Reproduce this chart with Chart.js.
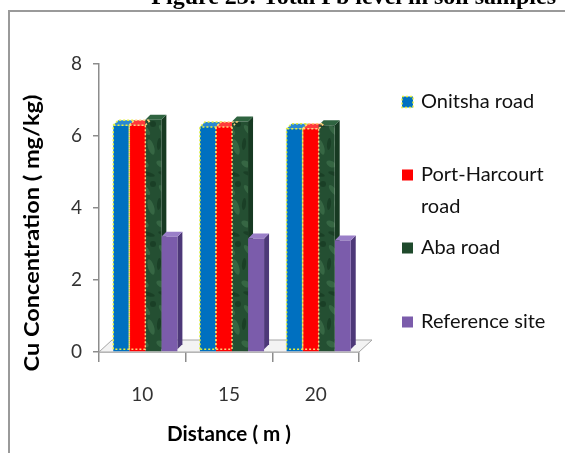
<!DOCTYPE html>
<html>
<head>
<meta charset="utf-8">
<script src="https://cdn.jsdelivr.net/npm/chart.js@4.4.0/dist/chart.umd.min.js"></script>
<style>
  html, body { margin: 0; padding: 0; background: #fff; }
  #wrap { width: 565px; height: 453px; }
</style>
</head>
<body>
<div id="wrap"><canvas id="cuChart" width="565" height="453"></canvas></div>
<script>
// data
const distances = ["10", "15", "20"];
const seriesNames = ["Onitsha road", "Port-Harcourt road", "Aba road", "Reference site"];
const onitshaRoad = [6.3, 6.25, 6.2];
const portHarcourtRoad = [6.3, 6.25, 6.2];
const abaRoad = [6.45, 6.4, 6.3];
const referenceSite = [3.2, 3.15, 3.1];
const yTicks = [0, 2, 4, 6, 8];

const figureTitle = "Figure 23: Total Pb level in soil samples";
const yTitle = "Cu Concentration ( mg/kg)";
const xTitle = "Distance ( m )";

// green "marble" fill, a small fixed pattern
function makeMarble() {
  const c = document.createElement("canvas");
  c.width = 17;
  c.height = 60;
  const g = c.getContext("2d");
  g.fillStyle = "#244f32";
  g.fillRect(0, 0, 17, 60);
  g.fillStyle = "rgba(95,155,110,0.3)";
  g.beginPath(); g.ellipse(7, 10, 6, 2.5, 0.9, 0, Math.PI * 2); g.fill();
  g.beginPath(); g.ellipse(12, 27, 3, 8, -0.3, 0, Math.PI * 2); g.fill();
  g.beginPath(); g.ellipse(5, 44, 5, 3, 0.5, 0, Math.PI * 2); g.fill();
  g.fillStyle = "rgba(15,45,25,0.45)";
  g.beginPath(); g.ellipse(9, 54, 7, 2, 0.3, 0, Math.PI * 2); g.fill();
  g.beginPath(); g.ellipse(3, 24, 2, 6, 0.1, 0, Math.PI * 2); g.fill();
  g.beginPath(); g.ellipse(14, 4, 3, 3, 0, 0, Math.PI * 2); g.fill();
  return g.createPattern(c, "repeat");
}

const frontColors = ["#0070c0", "#ff0000", makeMarble(), "#7b5cab"];
const topColors = ["#2a88d2", "#ff3a3a", "#2f6440", "#9a7fc8"];
const sideColors = ["#005a9a", "#cc0000", "#173a22", "#4d3878"];
const legendColors = ["#0070c0", "#ff0000", "#1f4a2c", "#7b5cab"];
const legendLines = [["Onitsha road"], ["Port-Harcourt", "road"], ["Aba road"], ["Reference site"]];
const legendY = [102, 175, 248, 322];

const dx = 5, dy = -5; // bar depth
const shiftX = 3;      // bars sit a bit right of the category centre in the 3D view

// draw text squeezed/stretched along its run to a set width
function fitText(ctx, text, x, y, width) {
  const w = ctx.measureText(text).width;
  ctx.save();
  ctx.translate(x, y);
  ctx.scale(width / w, 1);
  ctx.fillText(text, 0, 0);
  ctx.restore();
}

const bar3d = {
  id: "bar3d",
  beforeDraw(chart) {
    const ctx = chart.ctx;
    ctx.save();
    ctx.fillStyle = "#fff";
    ctx.fillRect(0, 0, chart.width, chart.height);
    // frame of the pasted figure
    ctx.strokeStyle = "#9a9a9a";
    ctx.lineWidth = 2;
    ctx.beginPath();
    ctx.moveTo(9, 453);
    ctx.lineTo(9, 11);
    ctx.lineTo(565, 11);
    ctx.stroke();
    // caption, cut at the top
    ctx.fillStyle = "#000";
    ctx.font = "bold 24px 'Liberation Serif'";
    ctx.textAlign = "right";
    ctx.textBaseline = "alphabetic";
    ctx.fillText(figureTitle, 556, 4);
    ctx.restore();
  },
  beforeDatasetsDraw(chart) {
    const ctx = chart.ctx;
    const area = chart.chartArea;
    const yb = chart.scales.y.getPixelForValue(0);
    ctx.save();
    // floor
    ctx.fillStyle = "#f3f3f3";
    ctx.strokeStyle = "#a6a6a6";
    ctx.lineWidth = 1;
    ctx.beginPath();
    ctx.moveTo(area.left, yb);
    ctx.lineTo(area.left + 13, yb - 12);
    ctx.lineTo(area.right + 13, yb - 12);
    ctx.lineTo(area.right, yb);
    ctx.closePath();
    ctx.fill();
    ctx.stroke();
    ctx.restore();

    // shifted until afterDatasetsDraw
    ctx.save();
    ctx.translate(shiftX, 0);
    // side and top faces
    for (let i = 0; i < distances.length; i++) {
      chart.data.datasets.forEach((ds, d) => {
        const b = chart.getDatasetMeta(d).data[i];
        const l = b.x - b.width / 2, r = b.x + b.width / 2;
        const base = b.base - 2;
        ctx.fillStyle = sideColors[d];
        ctx.beginPath();
        ctx.moveTo(r, b.y);
        ctx.lineTo(r + dx, b.y + dy);
        ctx.lineTo(r + dx, base + dy);
        ctx.lineTo(r, base);
        ctx.closePath();
        ctx.fill();
        ctx.fillStyle = topColors[d];
        ctx.beginPath();
        ctx.moveTo(l, b.y);
        ctx.lineTo(l + dx, b.y + dy);
        ctx.lineTo(r + dx, b.y + dy);
        ctx.lineTo(r, b.y);
        ctx.closePath();
        ctx.fill();
      });
    }
  },
  afterDatasetsDraw(chart) {
    const ctx = chart.ctx;
    // dotted outlines on the first two series
    [0, 1].forEach((d) => {
      chart.getDatasetMeta(d).data.forEach((b) => {
        const l = b.x - b.width / 2, r = b.x + b.width / 2;
        ctx.strokeStyle = d === 0 ? "#e6f03c" : "#ffd27a";
        ctx.lineWidth = 1.5;
        ctx.setLineDash([2, 2]);
        ctx.beginPath();
        ctx.moveTo(l, b.base - 2);
        ctx.lineTo(l, b.y);
        ctx.lineTo(l + dx, b.y + dy);
        ctx.lineTo(r + dx, b.y + dy);
        ctx.lineTo(r, b.y);
        ctx.lineTo(l, b.y);
        ctx.moveTo(r, b.y);
        ctx.lineTo(r, b.base - 2);
        ctx.lineTo(l, b.base - 2);
        ctx.stroke();
      });
    });
    ctx.restore();
  },
  afterDraw(chart) {
    const ctx = chart.ctx;
    const area = chart.chartArea;
    ctx.save();
    ctx.fillStyle = "#000";
    ctx.font = "bold 20px Lato";
    ctx.textAlign = "center";
    ctx.textBaseline = "middle";
    fitText(ctx, xTitle, (area.left + area.right) / 2, 435, 124);
    ctx.translate(33, 233);
    ctx.rotate(-Math.PI / 2);
    fitText(ctx, yTitle, 0, 0, 277);
    ctx.restore();

    // legend
    ctx.save();
    ctx.font = "20px Lato";
    ctx.textAlign = "left";
    ctx.textBaseline = "middle";
    seriesNames.forEach((name, d) => {
      const y = legendY[d];
      ctx.fillStyle = legendColors[d];
      ctx.fillRect(402, y - 5.5, 11, 11);
      if (d === 0) {
        ctx.strokeStyle = "#e6f03c";
        ctx.lineWidth = 1.5;
        ctx.setLineDash([2, 2]);
        ctx.strokeRect(402, y - 5.5, 11, 11);
        ctx.setLineDash([]);
      }
      ctx.fillStyle = "#111";
      legendLines[d].forEach((line, k) => {
        ctx.fillText(line, 421, y + k * 32);
      });
    });
    ctx.restore();
  }
};

const seriesData = [onitshaRoad, portHarcourtRoad, abaRoad, referenceSite];

new Chart(document.getElementById("cuChart"), {
  type: "bar",
  data: {
    labels: distances,
    datasets: seriesNames.map((name, d) => ({
      label: name,
      data: seriesData[d],
      backgroundColor: frontColors[d],
      borderWidth: 0,
      categoryPercentage: 0.74,
      barPercentage: 1
    }))
  },
  options: {
    responsive: false,
    animation: false,
    layout: { padding: { left: 0, right: 206, top: 64, bottom: 0 } },
    plugins: {
      legend: { display: false },
      tooltip: { enabled: false }
    },
    scales: {
      x: {
        grid: { drawOnChartArea: false, drawTicks: true, tickLength: 10, color: "#8c8c8c", lineWidth: 1.5 },
        border: { color: "#8c8c8c", width: 1.5 },
        ticks: { font: { family: "Lato", size: 19 }, color: "#333", padding: 21 },
        afterFit: (s) => { s.height = 101; }
      },
      y: {
        min: 0,
        max: 8,
        afterBuildTicks: (s) => { s.ticks = yTicks.map((v) => ({ value: v })); },
        grid: { drawOnChartArea: false, drawTicks: true, tickLength: 6, color: "#8c8c8c", lineWidth: 1.5 },
        border: { color: "#8c8c8c", width: 1.5 },
        ticks: { font: { family: "Lato", size: 19 }, color: "#333", padding: 11 },
        afterFit: (s) => { s.width = 99; }
      }
    }
  },
  plugins: [bar3d]
});
</script>
</body>
</html>
